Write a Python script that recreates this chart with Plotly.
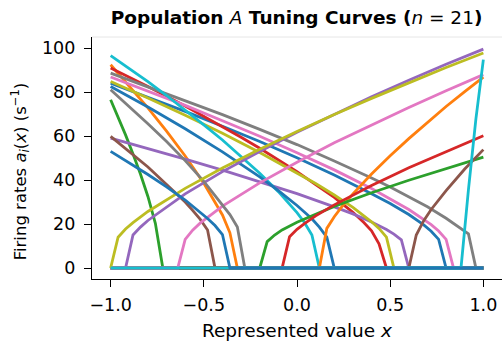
import plotly.graph_objects as go

# ---- data (x = represented value, y = firing rate, s^-1) ----
x_blue_a = [-1.0, -0.8, -0.6, -0.4, -0.2, 0.0, 0.2, 0.4, 0.5, 0.6, 0.68, 0.72, 0.76, 0.8, 1.0]
y_blue_a = [84.0, 77.7, 71.2, 64.4, 57.5, 50.1, 42.3, 33.8, 29.3, 24.3, 19.6, 16.7, 13.0, 0, 0]

x_orange_dec = [-1.0, -0.9, -0.8, -0.7, -0.6, -0.5, -0.44, -0.4, -0.36, -0.32, 1.0]
y_orange_dec = [92.4, 82.8, 72.8, 62.2, 50.9, 38.5, 30.2, 24.1, 16.0, 0, 0]

x_green_dec = [-1.0, -0.96, -0.92, -0.88, -0.84, -0.8, -0.76, -0.72, 1.0]
y_green_dec = [76.5, 68.7, 60.5, 51.8, 42.7, 32.5, 20.3, 0, 0]

x_red_dec = [-1.0, -0.8, -0.6, -0.4, -0.3, -0.2, -0.1, 0.0, 0.1, 0.2, 0.3, 0.36, 0.4, 0.44, 0.48, 1.0]
y_red_dec = [90.9, 82.5, 73.6, 64.3, 59.4, 54.4, 49.2, 43.8, 37.9, 32.1, 25.3, 20.6, 16.9, 11.0, 0, 0]

x_purple_dec = [-1.0, -0.8, -0.6, -0.4, -0.2, 0.0, 0.2, 0.3, 0.4, 0.48, 0.52, 0.56, 0.6, 1.0]
y_purple_dec = [59.0, 54.4, 49.5, 44.5, 39.3, 33.8, 27.8, 24.6, 20.9, 17.5, 15.4, 12.8, 0, 0]

x_brown_dec = [-1.0, -0.9, -0.8, -0.7, -0.6, -0.56, -0.52, -0.48, -0.44, 1.0]
y_brown_dec = [59.8, 53.0, 45.9, 38.0, 30.0, 26.2, 22.2, 17.3, 0, 0]

x_pink_dec = [-1.0, -0.8, -0.6, -0.4, -0.2, 0.0, 0.2, 0.4, 0.5, 0.6, 0.72, 0.76, 0.8, 0.84, 1.0]
y_pink_dec = [86.8, 80.4, 73.9, 66.9, 59.9, 52.4, 44.6, 36.1, 31.5, 26.6, 19.7, 16.8, 13.0, 0, 0]

x_gray_hi = [-1.0, -0.8, -0.6, -0.4, -0.2, 0.0, 0.2, 0.3, 0.4, 0.5, 0.6, 0.7, 0.8, 0.84, 0.88, 0.92, 0.96, 1.0]
y_gray_hi = [88.6, 82.4, 76.2, 69.7, 63.0, 56.1, 48.6, 44.9, 40.9, 36.8, 32.4, 27.8, 22.6, 20.2, 17.6, 15.5, 0, 0]

x_olive_dec = [-1.0, -0.8, -0.6, -0.4, -0.2, 0.0, 0.1, 0.2, 0.3, 0.4, 0.44, 0.48, 0.52, 1.0]
y_olive_dec = [84.8, 77.3, 69.4, 61.2, 52.5, 43.3, 38.4, 33.2, 27.6, 21.0, 18.0, 14.0, 0, 0]

x_cyan_dec = [-1.0, -0.9, -0.8, -0.7, -0.6, -0.5, -0.4, -0.3, -0.2, -0.1, 0.0, 0.04, 0.08, 0.12, 1.0]
y_cyan_dec = [96.5, 90.8, 84.7, 78.4, 71.9, 65.1, 58.2, 50.8, 43.1, 34.7, 25.2, 20.7, 15.0, 0, 0]

x_blue_b = [-1.0, -0.8, -0.6, -0.4, -0.2, -0.1, 0.0, 0.08, 0.12, 0.16, 0.2, 1.0]
y_blue_b = [82.5, 73.2, 63.3, 52.8, 41.4, 35.2, 28.4, 22.4, 18.6, 14.0, 0, 0]

x_orange_inc = [-1.0, 0.12, 0.16, 0.2, 0.24, 0.3, 0.4, 0.5, 0.6, 0.7, 0.8, 0.9, 1.0]
y_orange_inc = [0, 0, 18.0, 23.3, 27.8, 33.7, 42.7, 51.0, 58.8, 66.2, 73.4, 80.2, 86.8]

x_green_inc = [-1.0, -0.2, -0.16, -0.12, -0.08, 0.0, 0.2, 0.4, 0.6, 0.8, 1.0]
y_green_inc = [0, 0, 12.0, 15.0, 17.3, 20.8, 28.0, 34.2, 39.9, 45.3, 50.4]

x_red_inc = [-1.0, -0.08, -0.04, 0.0, 0.04, 0.1, 0.2, 0.4, 0.6, 0.8, 1.0]
y_red_inc = [0, 0, 14.2, 17.6, 20.2, 23.7, 28.7, 37.5, 45.6, 53.0, 60.1]

x_purple_inc = [-1.0, -0.92, -0.88, -0.84, -0.8, -0.6, -0.4, -0.2, 0.0, 0.2, 0.4, 0.6, 0.8, 1.0]
y_purple_inc = [0, 0, 15.0, 18.6, 21.6, 33.7, 43.8, 53.0, 61.7, 69.9, 77.8, 85.3, 92.6, 99.5]

x_brown_inc = [-1.0, 0.6, 0.64, 0.68, 0.72, 0.8, 0.9, 1.0]
y_brown_inc = [0, 0, 15.0, 21.5, 26.6, 35.2, 45.0, 53.8]

x_pink_inc = [-1.0, -0.64, -0.6, -0.56, -0.52, -0.4, -0.2, 0.0, 0.2, 0.4, 0.6, 0.8, 1.0]
y_pink_inc = [0, 0, 13.0, 17.2, 20.4, 28.1, 38.7, 48.1, 56.9, 65.1, 73.0, 80.6, 87.9]

x_gray_lo = [-1.0, -0.9, -0.8, -0.7, -0.6, -0.5, -0.4, -0.36, -0.32, -0.28, 1.0]
y_gray_lo = [81.0, 73.4, 65.6, 57.5, 48.8, 39.4, 29.0, 24.3, 18.6, 0, 0]

x_olive_inc = [-1.0, -0.96, -0.92, -0.88, -0.8, -0.6, -0.4, -0.2, 0.0, 0.2, 0.4, 0.6, 0.8, 1.0]
y_olive_inc = [0, 14.0, 17.7, 20.6, 25.7, 36.2, 45.5, 54.0, 62.0, 69.8, 77.1, 84.2, 91.1, 97.7]

x_cyan_inc = [-1.0, 0.88, 0.92, 0.96, 1.0]
y_cyan_inc = [0, 0, 35.6, 67.8, 94.7]

x_blue_c = [-1.0, -0.9, -0.8, -0.7, -0.6, -0.48, -0.44, -0.4, -0.36, 1.0]
y_blue_c = [53.0, 47.9, 42.5, 36.9, 30.9, 22.5, 19.3, 15.2, 0, 0]

x_tick_vals = [-1.0, -0.5, 0.0, 0.5, 1.0]
x_tick_text = ["\u22121.0", "\u22120.5", "0.0", "0.5", "1.0"]
y_tick_vals = [0, 20, 40, 60, 80, 100]

palette = ["#1f77b4", "#ff7f0e", "#2ca02c", "#d62728", "#9467bd",
           "#8c564b", "#e377c2", "#7f7f7f", "#bcbd22", "#17becf"]

curves = [
    (x_blue_a, y_blue_a), (x_orange_dec, y_orange_dec), (x_green_dec, y_green_dec),
    (x_red_dec, y_red_dec), (x_purple_dec, y_purple_dec), (x_brown_dec, y_brown_dec),
    (x_pink_dec, y_pink_dec), (x_gray_hi, y_gray_hi), (x_olive_dec, y_olive_dec),
    (x_cyan_dec, y_cyan_dec), (x_blue_b, y_blue_b), (x_orange_inc, y_orange_inc),
    (x_green_inc, y_green_inc), (x_red_inc, y_red_inc), (x_purple_inc, y_purple_inc),
    (x_brown_inc, y_brown_inc), (x_pink_inc, y_pink_inc), (x_gray_lo, y_gray_lo),
    (x_olive_inc, y_olive_inc), (x_cyan_inc, y_cyan_inc), (x_blue_c, y_blue_c),
]

fig = go.Figure()
for i, (xs, ys) in enumerate(curves):
    fig.add_trace(go.Scatter(x=xs, y=ys, mode="lines",
                             line=dict(color=palette[i % 10], width=2.8),
                             showlegend=False, hoverinfo="skip"))

FONT = "DejaVu Sans"
fig.update_layout(
    width=502, height=341,
    margin=dict(l=92, r=0, t=37, b=62, autoexpand=False),
    paper_bgcolor="white", plot_bgcolor="white",
    font=dict(family=FONT, size=17.5, color="black"),
    title=dict(
        text="<b>Population </b><i>A</i><b> Tuning Curves (</b><i>n</i> = 21<b>)</b>",
        x=0.5908, xref="container", xanchor="center", y=0.95, yref="container", yanchor="middle",
        font=dict(family=FONT, size=18.5, color="black"), automargin=False),
    xaxis=dict(range=[-1.1, 1.1], showgrid=False, zeroline=False, automargin=False,
               showline=True, linecolor="black", linewidth=1.3,
               ticks="outside", ticklen=7, tickwidth=1.3, tickcolor="black",
               tickvals=x_tick_vals, ticktext=x_tick_text, ticklabelstandoff=3,
               tickfont=dict(family=FONT, size=17.5),
               title=dict(text="Represented value <i>x</i>", standoff=9,
                          font=dict(family=FONT, size=18.5))),
    yaxis=dict(range=[-5, 105], showgrid=False, zeroline=False, automargin=False,
               showline=True, linecolor="black", linewidth=1.3,
               ticks="outside", ticklen=7, tickwidth=1.3, tickcolor="black",
               tickvals=y_tick_vals, ticklabelstandoff=5,
               tickfont=dict(family=FONT, size=17.5)),
    annotations=[dict(
        text="Firing rates <i>a<sub>i</sub></i>(<i>x</i>) (s<sup>\u22121</sup>)",
        xref="paper", yref="paper", x=0, y=0.445, xanchor="center", yanchor="middle",
        xshift=-72, textangle=-90, showarrow=False,
        font=dict(family=FONT, size=16.5, color="black"))],
)
fig.add_shape(type="line", xref="paper", yref="paper", x0=0, x1=1, y0=1, y1=1,
              line=dict(color="#e6e6e6", width=1))

fig.write_html("out.html", config={"displayModeBar": False},
               post_script="document.body.style.margin='0px';document.body.style.overflow='hidden';")
